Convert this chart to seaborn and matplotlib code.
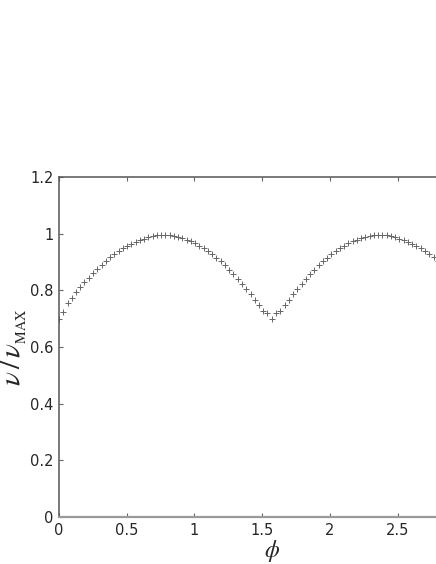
import matplotlib
matplotlib.use("Agg")
import matplotlib.pyplot as plt
import seaborn as sns
from matplotlib.ticker import FuncFormatter

# -----------------------------
# Data (phase angle vs normalised speed)
# -----------------------------
phi = [
    0.000, 0.031, 0.063, 0.094, 0.126, 0.157, 0.188, 0.220, 0.251, 0.283,
    0.314, 0.346, 0.377, 0.408, 0.440, 0.471, 0.503, 0.534, 0.565, 0.597,
    0.628, 0.660, 0.691, 0.723, 0.754, 0.785, 0.817, 0.848, 0.880, 0.911,
    0.942, 0.974, 1.005, 1.037, 1.068, 1.100, 1.131, 1.162, 1.194, 1.225,
    1.257, 1.288, 1.319, 1.351, 1.382, 1.414, 1.445, 1.477, 1.508, 1.539,
    1.571, 1.602, 1.634, 1.665, 1.696, 1.728, 1.759, 1.791, 1.822, 1.853,
    1.885, 1.916, 1.948, 1.979, 2.011, 2.042, 2.073, 2.105, 2.136, 2.168,
    2.199, 2.231, 2.262, 2.293, 2.325, 2.356, 2.388, 2.419, 2.450, 2.482,
    2.513, 2.545, 2.576, 2.608, 2.639, 2.670, 2.702, 2.733, 2.765, 2.796,
    2.827, 2.859, 2.890, 2.922, 2.953, 2.985, 3.016, 3.047, 3.079, 3.110,
    3.142,
]
v_ratio = [
    0.698, 0.722, 0.755, 0.774, 0.795, 0.812, 0.829, 0.845, 0.861, 0.876,
    0.891, 0.905, 0.918, 0.929, 0.940, 0.949, 0.957, 0.965, 0.972, 0.978,
    0.983, 0.988, 0.991, 0.994, 0.995, 0.995, 0.994, 0.992, 0.989, 0.984,
    0.979, 0.973, 0.966, 0.958, 0.948, 0.938, 0.927, 0.915, 0.902, 0.888,
    0.873, 0.858, 0.841, 0.824, 0.806, 0.787, 0.767, 0.747, 0.726, 0.720,
    0.699, 0.720, 0.726, 0.747, 0.767, 0.787, 0.806, 0.824, 0.841, 0.858,
    0.873, 0.888, 0.902, 0.915, 0.927, 0.938, 0.948, 0.958, 0.966, 0.973,
    0.979, 0.984, 0.989, 0.992, 0.994, 0.995, 0.995, 0.994, 0.991, 0.988,
    0.983, 0.978, 0.972, 0.965, 0.957, 0.949, 0.940, 0.929, 0.918, 0.905,
    0.891, 0.876, 0.861, 0.845, 0.829, 0.812, 0.795, 0.774, 0.755, 0.722,
    0.698,
]
x_ticks = [0, 0.5, 1, 1.5, 2, 2.5]
y_ticks = [0, 0.2, 0.4, 0.6, 0.8, 1, 1.2]

# -----------------------------
# Style
# -----------------------------
sns.set_style("ticks")
plt.rcParams["font.family"] = ["DejaVu Sans"]
plt.rcParams["mathtext.fontset"] = "stix"

fig = plt.figure(figsize=(4.36, 5.64), dpi=100)
# axes run to x = pi, which lies past the right edge of the picture
ax = fig.add_axes([0.1353, 0.0833, 0.976, 0.6028])

sns.scatterplot(x=phi, y=v_ratio, marker="+", color="#666666", s=16,
                linewidth=0.7, ax=ax, legend=False)

ax.set_xlim(0, 3.1416)
ax.set_ylim(0, 1.2)
ax.set_xticks(x_ticks)
ax.set_yticks(y_ticks)
fmt = FuncFormatter(lambda v, _: f"{v:g}")
ax.xaxis.set_major_formatter(fmt)
ax.yaxis.set_major_formatter(fmt)
ax.tick_params(direction="in", length=3, width=0.8, color="#666666",
               labelsize=10.5, top=True, right=True, pad=4)

for name, spine in ax.spines.items():
    spine.set_visible(True)
    spine.set_color("#555555")
    spine.set_linewidth(1.1)
ax.spines["bottom"].set_color("#9a9a9a")
ax.spines["bottom"].set_linewidth(1.6)

ax.set_xlabel(r"$\phi$", fontsize=17, labelpad=0)
ax.set_ylabel(r"$\nu\,/\,\nu_{_{\mathrm{MAX}}}$", fontsize=21, labelpad=1)

fig.savefig("out.png", dpi=100)
